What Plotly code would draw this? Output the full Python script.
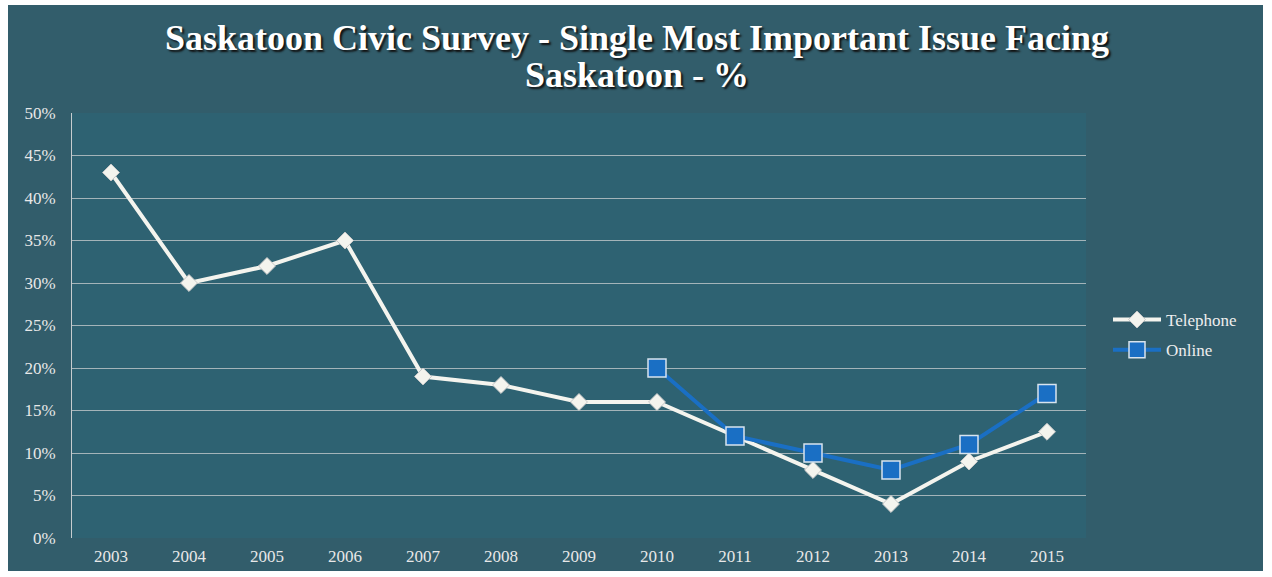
import plotly.graph_objects as go

years = ["2003", "2004", "2005", "2006", "2007", "2008", "2009", "2010",
         "2011", "2012", "2013", "2014", "2015"]
telephone = [43, 30, 32, 35, 19, 18, 16, 16, 12, 8, 4, 9, 12.5]
online_years = ["2010", "2011", "2012", "2013", "2014", "2015"]
online = [20, 12, 10, 8, 11, 17]
ytick_vals = [0, 5, 10, 15, 20, 25, 30, 35, 40, 45, 50]
ytick_text = [f"{v}%" for v in ytick_vals]
title_lines = ["Saskatoon Civic Survey - Single Most Important Issue Facing",
               "Saskatoon - %"]

W, H = 1272, 577
L, R, T, B = 72, 1086, 113, 538
pw, ph = R - L, B - T

def px(x):
    return (x - L) / pw

def py(y):
    return (B - y) / ph

fig = go.Figure()
fig.add_trace(go.Scatter(
    x=years, y=telephone, name="Telephone", mode="lines+markers",
    legendgroup="tel",
    line=dict(color="#f4f4ee", width=4),
    marker=dict(symbol="diamond", size=13, color="#f4f4ee",
                line=dict(color="#c8c8c8", width=1)),
))
fig.add_trace(go.Scatter(
    x=online_years, y=online, name="Online", mode="lines+markers",
    legendgroup="onl",
    line=dict(color="#1a6fc4", width=4),
    marker=dict(symbol="square", size=18, color="#1a6fc4",
                line=dict(color="#d8e4ee", width=1.5)),
))

serif = "Liberation Serif, Times New Roman, serif"
title_font = dict(family=serif, size=36, color="white", weight="bold",
                  shadow="2px 2px 2px #111111")
fig.update_layout(
    width=W, height=H,
    margin=dict(l=L, r=W - R, t=T, b=H - B),
    paper_bgcolor="white",
    plot_bgcolor="#2f6373",
    font=dict(family=serif, color="#eeeeee", size=17),
    xaxis=dict(
        type="category", range=[-0.5, 12.5], showgrid=False,
        showline=False, ticks="", tickfont=dict(size=17, color="#e8e8e8"),
        zeroline=False, ticklabelstandoff=6,
    ),
    yaxis=dict(
        range=[0, 50], tickvals=ytick_vals, ticktext=ytick_text,
        showgrid=True, gridcolor="rgba(215,215,215,0.7)", gridwidth=1,
        showline=True, linecolor="rgba(225,225,225,0.85)", linewidth=1,
        ticks="", tickfont=dict(size=17, color="#e8e8e8"), zeroline=False,
        ticklabelstandoff=12,
    ),
    legend=dict(
        x=px(1108), xanchor="left", y=py(302), yanchor="top",
        bgcolor="rgba(0,0,0,0)", font=dict(size=17, color="#eeeeee"),
        itemwidth=48, tracegroupgap=5,
    ),
    annotations=[
        dict(text=title_lines[0], xref="paper", yref="paper",
             x=px(637), y=py(38), xanchor="center", yanchor="middle",
             showarrow=False, font=title_font),
        dict(text=title_lines[1], xref="paper", yref="paper",
             x=px(637), y=py(75), xanchor="center", yanchor="middle",
             showarrow=False, font=title_font),
    ],
    shapes=[
        dict(type="rect", xref="paper", yref="paper", layer="below",
             x0=px(8), x1=px(1263), y0=py(571), y1=py(5),
             fillcolor="#325d6b", line=dict(width=0)),
        dict(type="rect", xref="paper", yref="paper", layer="below",
             x0=0, x1=1, y0=0, y1=1,
             fillcolor="#2e6272", line=dict(width=0)),
    ],
    showlegend=True,
)

fig.write_html("out.html")
